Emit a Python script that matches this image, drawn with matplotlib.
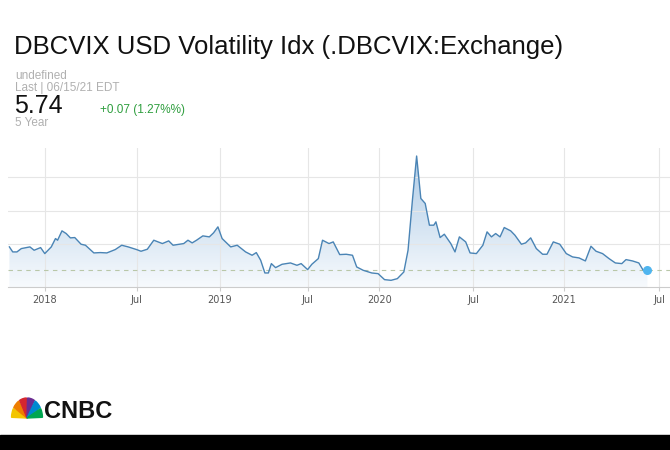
import numpy as np
import matplotlib
matplotlib.use('Agg')
import matplotlib.pyplot as plt
from matplotlib.patches import Wedge, Rectangle

# chart time (session scale, ticks spaced unevenly like the source)
t = [2017.798, 2017.817, 2017.841, 2017.866, 2017.915, 2017.939, 2017.976, 2018.000,
     2018.037, 2018.061, 2018.073, 2018.098, 2018.122, 2018.146, 2018.171, 2018.207,
     2018.232, 2018.280, 2018.317, 2018.354, 2018.402, 2018.439, 2018.476, 2018.524,
     2018.549, 2018.585, 2018.622, 2018.671, 2018.707, 2018.732, 2018.793, 2018.817,
     2018.841, 2018.866, 2018.902, 2018.939, 2018.963, 2018.988, 2019.012, 2019.061,
     2019.098, 2019.146, 2019.183, 2019.207, 2019.232, 2019.256, 2019.276, 2019.293,
     2019.317, 2019.354, 2019.402, 2019.439, 2019.463, 2019.500, 2019.524, 2019.561,
     2019.585, 2019.622, 2019.646, 2019.683, 2019.720, 2019.756, 2019.780, 2019.817,
     2019.866, 2019.902, 2019.939, 2019.976, 2020.012, 2020.049, 2020.073, 2020.098,
     2020.122, 2020.146, 2020.171, 2020.195, 2020.220, 2020.232, 2020.256, 2020.280,
     2020.317, 2020.341, 2020.366, 2020.402, 2020.427, 2020.463, 2020.500, 2020.524,
     2020.549, 2020.573, 2020.598, 2020.622, 2020.659, 2020.683, 2020.720, 2020.744,
     2020.773, 2020.805, 2020.841, 2020.866, 2020.902, 2020.939, 2020.976, 2021.012,
     2021.049, 2021.085, 2021.117, 2021.146, 2021.183, 2021.220, 2021.256, 2021.293,
     2021.317, 2021.354, 2021.390, 2021.415, 2021.439]
vals = [7.14, 6.84, 6.84, 7.04, 7.14, 6.94, 7.10, 6.74,
        7.14, 7.64, 7.54, 8.10, 7.94, 7.68, 7.70, 7.30,
        7.24, 6.78, 6.80, 6.78, 6.98, 7.24, 7.14, 6.98,
        6.88, 7.00, 7.54, 7.34, 7.50, 7.24, 7.34, 7.54,
        7.38, 7.54, 7.80, 7.74, 7.98, 8.34, 7.64, 7.14,
        7.24, 6.84, 6.64, 6.80, 6.34, 5.58, 5.58, 6.14,
        5.90, 6.10, 6.18, 6.04, 6.14, 5.78, 6.10, 6.44,
        7.54, 7.34, 7.44, 6.68, 6.70, 6.64, 5.94, 5.74,
        5.58, 5.54, 5.18, 5.14, 5.24, 5.64, 6.94, 9.94,
        12.58, 10.04, 9.74, 8.44, 8.44, 8.64, 7.70, 7.90,
        7.34, 6.84, 7.74, 7.44, 6.78, 6.74, 7.24, 8.04,
        7.74, 7.94, 7.74, 8.30, 8.10, 7.84, 7.30, 7.38,
        7.68, 7.04, 6.70, 6.70, 7.44, 7.30, 6.74, 6.54,
        6.48, 6.30, 7.18, 6.88, 6.74, 6.44, 6.18, 6.14,
        6.38, 6.30, 6.18, 5.74, 5.74]
tick_pos = [2018.0, 2018.524, 2019.0, 2019.5, 2019.910, 2020.446, 2020.963, 2021.507]
tick_labels = ['2018', 'Jul', '2019', 'Jul', '2020', 'Jul', '2021', 'Jul']
last = 5.74

fig = plt.figure(figsize=(6.7, 4.5), dpi=100)
fig.patch.set_facecolor('white')

ax = fig.add_axes([8 / 670, 163 / 450, 662 / 670, 139 / 450])
x0, x1 = 2017.79, 2021.568
y0, y1 = 4.74, 13.06
ax.set_xlim(x0, x1)
ax.set_ylim(y0, y1)

# gradient fill under the line
grad = np.linspace(0, 1, 256).reshape(-1, 1)
img = ax.imshow(grad, extent=[x0, x1, y0, 12.6], origin='lower', aspect='auto',
                cmap=matplotlib.colors.LinearSegmentedColormap.from_list(
                    'g', ['#f7fafd', '#aecbe6']), zorder=1)
poly = ax.fill_between(t, vals, y0, color='none')
img.set_clip_path(poly.get_paths()[0], transform=ax.transData)

ax.plot(t, vals, color='#4a84b5', lw=1.0, zorder=3)
ax.axhline(last, color='#b9c7a8', lw=0.8, ls=(0, (4, 4)), zorder=2)
ax.scatter([t[-1]], [last], s=30, color='#4fb5ef', zorder=4)

ax.set_xticks(tick_pos)
ax.set_xticklabels(tick_labels, fontsize=7, color='#555555')
ax.set_yticks([7.3, 9.3, 11.3])
ax.tick_params(axis='y', left=False, labelleft=False)
ax.tick_params(axis='x', length=3, color='#cccccc', pad=3)
ax.grid(True, color='#e6e6e6', lw=0.8, zorder=0)
for s in ['top', 'right', 'left']:
    ax.spines[s].set_visible(False)
ax.spines['bottom'].set_color('#cccccc')

# header text
fig.text(14 / 670, 1 - 47 / 450, 'DBCVIX USD Volatility Idx (.DBCVIX:Exchange)',
         fontsize=18.5, color='#111111', va='center', family='Liberation Sans')
fig.text(15 / 670, 1 - 76 / 450, 'undefined', fontsize=8.5, color='#b0b0b0', va='center',
         family='Liberation Sans')
fig.text(15 / 670, 1 - 88 / 450, 'Last | 06/15/21 EDT', fontsize=8.5, color='#b0b0b0',
         va='center', family='Liberation Sans')
fig.text(14 / 670, 1 - 106 / 450, '5.74', fontsize=18, color='#111111', va='center',
         family='Liberation Sans')
fig.text(100 / 670, 1 - 110 / 450, '+0.07 (1.27%%)', fontsize=8.5, color='#2e9e3e',
         va='center', family='Liberation Sans')
fig.text(15 / 670, 1 - 123 / 450, '5 Year', fontsize=8.5, color='#b0b0b0', va='center',
         family='Liberation Sans')

# bottom logo
lax = fig.add_axes([10 / 670, 30 / 450, 34 / 670, 24 / 450])
lax.set_xlim(-1.1, 1.1)
lax.set_ylim(-0.1, 1.1)
lax.axis('off')
colors = ['#f3c500', '#ee7d00', '#d5262e', '#6b2c91', '#0089cf', '#00a650']
for i, c in enumerate(colors):
    a0 = 180 - i * 30
    lax.add_patch(Wedge((0, 0), 1.0, a0 - 28, a0 - 2, color=c))
fig.text(44 / 670, 1 - 412 / 450, 'CNBC', fontsize=17, fontweight='bold', color='#111111',
         va='center', family='Liberation Sans')

fig.patches.append(Rectangle((0, 0), 1, 15 / 450, transform=fig.transFigure,
                             color='black', zorder=0))

fig.savefig('out.png', dpi=100)
